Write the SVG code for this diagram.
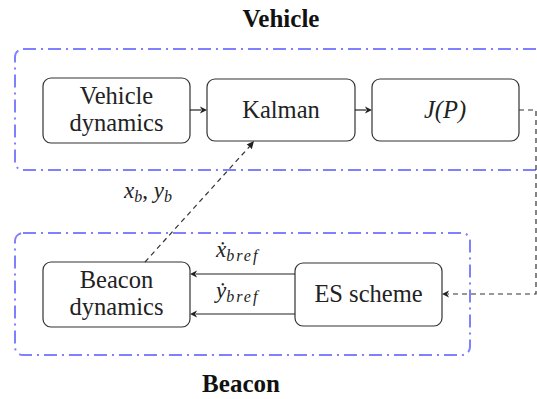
<svg xmlns="http://www.w3.org/2000/svg" width="537" height="399" viewBox="0 0 537 399">
<style>
.grp{fill:none;stroke:#8080ff;stroke-width:2;stroke-dasharray:13,5,2,5}
.node{fill:#fff;stroke:#333;stroke-width:1.2}
.t{font-size:24.5px;fill:#222;text-anchor:middle}
.m{font-style:italic;font-size:23px;fill:#222}
.ttl{font-weight:bold;font-size:25px;fill:#111;text-anchor:middle}
.c{fill:none;stroke:#222;stroke-width:1.2}
.d{fill:none;stroke:#333;stroke-width:1.2;stroke-dasharray:5,4}
.ah{fill:#222}
</style>
<rect width="537" height="399" fill="#fff"/>
<g id="vehicle-group">
<rect class="grp" x="15" y="49" width="545" height="121" rx="8"/>
<text class="ttl" x="281" y="27" font-family="Liberation Serif">Vehicle</text>
</g>
<g id="beacon-group">
<rect class="grp" x="15" y="233" width="455" height="122" rx="8"/>
<text class="ttl" x="241" y="392" font-family="Liberation Serif">Beacon</text>
</g>
<g id="vehicle-dynamics">
<rect class="node" x="43" y="78" width="147" height="65" rx="8"/>
<text class="t" x="116.5" y="104" font-family="Liberation Serif">Vehicle</text>
<text class="t" x="116.5" y="131" font-family="Liberation Serif">dynamics</text>
</g>
<g id="kalman">
<rect class="node" x="207" y="79" width="148" height="62" rx="8"/>
<text class="t" x="281" y="118" font-family="Liberation Serif">Kalman</text>
</g>
<g id="jp">
<rect class="node" x="372" y="79" width="147" height="62" rx="8"/>
<text class="t" x="445" y="118" font-family="Liberation Serif" font-style="italic">J(P)</text>
</g>
<g id="beacon-dynamics">
<rect class="node" x="43" y="262" width="147" height="65" rx="8"/>
<text class="t" x="116.5" y="288" font-family="Liberation Serif">Beacon</text>
<text class="t" x="116.5" y="315" font-family="Liberation Serif">dynamics</text>
</g>
<g id="es-scheme">
<rect class="node" x="295" y="263" width="147" height="63" rx="8"/>
<text class="t" x="368.5" y="302" font-family="Liberation Serif">ES scheme</text>
</g>
<g id="connectors">
<line class="c" x1="190" y1="110" x2="201" y2="110"/>
<polygon class="ah" points="207,110 200,106.5 201.8,110 200,113.5"/>
<line class="c" x1="355" y1="110" x2="366" y2="110"/>
<polygon class="ah" points="372,110 365,106.5 366.8,110 365,113.5"/>
<path class="d" d="M519,110 H536 V294 H448"/>
<polygon class="ah" points="442,294 449,290.5 447.2,294 449,297.5"/>
<line class="d" x1="145" y1="262" x2="250" y2="146"/>
<polygon class="ah" points="254,141 246.6,144.5 249.5,146.5 251.8,149.2"/>
<line class="c" x1="295" y1="274" x2="196" y2="274"/>
<polygon class="ah" points="190,274 197,270.5 195.2,274 197,277.5"/>
<line class="c" x1="295" y1="314" x2="196" y2="314"/>
<polygon class="ah" points="190,314 197,310.5 195.2,314 197,317.5"/>
<text class="m" x="124" y="198" font-family="Liberation Serif">x<tspan font-size="16" dy="4">b</tspan><tspan dy="-4" font-style="normal">, </tspan>y<tspan font-size="16" dy="4">b</tspan></text>
<text class="m" x="216" y="257" font-family="Liberation Serif">ẋ<tspan font-size="16" dy="4" letter-spacing="2">bref</tspan></text>
<text class="m" x="216" y="298" font-family="Liberation Serif">ẏ<tspan font-size="16" dy="4" letter-spacing="2">bref</tspan></text>
</g>
</svg>
